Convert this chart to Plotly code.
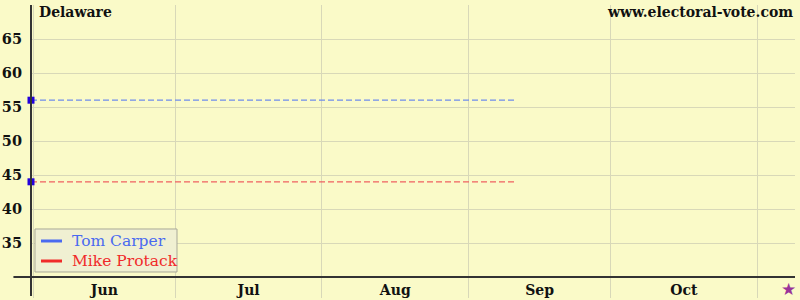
import plotly.graph_objects as go

# Data
dates = ["2006-05-31 12:00", "2006-09-11"]
carper = [56, 56]
protack = [44, 44]
names = ["Tom Carper", "Mike Protack"]
name_colors = ["#4A6AF0", "#F02A2A"]
election_day = "2006-11-07"
y_ticks = [35, 40, 45, 50, 55, 60, 65]

BG = "#FAFAC8"
FONT = "DejaVu Serif"
GRID = "#D8D8B8"

fig = go.Figure()

# Dashed poll lines
fig.add_trace(go.Scatter(x=dates, y=carper, mode="lines",
                         line=dict(color="#6F8CEB", width=1.3, dash="6px,3px"),
                         showlegend=False, hoverinfo="skip"))
fig.add_trace(go.Scatter(x=dates, y=protack, mode="lines",
                         line=dict(color="#F06060", width=1.3, dash="6px,3px"),
                         showlegend=False, hoverinfo="skip"))
# Start markers
fig.add_trace(go.Scatter(x=[dates[0], dates[0]], y=[carper[0], protack[0]], mode="markers",
                         marker=dict(symbol="square", size=7, color="#2200DD"),
                         showlegend=False, cliponaxis=False, hoverinfo="skip"))

fig.update_layout(
    width=800, height=300,
    margin=dict(l=31, r=5, t=5, b=23),
    paper_bgcolor=BG, plot_bgcolor=BG,
    font=dict(family=FONT, size=14, color="#111"),
    showlegend=False,
    xaxis=dict(type="date", range=["2006-05-31 12:00", "2006-11-09"],
               tick0="2006-06-01", dtick="M1", ticklabelmode="period",
               tickformat="%b", showgrid=True, gridcolor=GRID, gridwidth=1,
               ticks="outside", ticklen=20, tickcolor=GRID,
               ticklabelstandoff=-20, automargin=False,
               showline=False, zeroline=False,
               tickfont=dict(family=FONT, size=14, weight="bold", color="#111")),
    yaxis=dict(range=[30, 70], tickvals=y_ticks, showgrid=True, gridcolor=GRID,
               ticks="", showline=False, zeroline=False, automargin=False,
               ticklabelstandoff=8,
               tickfont=dict(family=FONT, size=14.5, weight="bold", color="#111")),
)

# Axis lines extending past the plot corner
fig.add_shape(type="line", xref="paper", yref="paper", x0=0, x1=0, y0=-0.07, y1=1,
              line=dict(color="#333", width=2))
fig.add_shape(type="line", xref="paper", yref="paper", x0=-0.023, x1=1, y0=0, y1=0,
              line=dict(color="#333", width=2))

# Legend box (drawn as layout decoration)
fig.add_shape(type="rect", xref="paper", yref="paper", x0=0.0052, x1=0.1911, y0=0.0184, y1=0.1765,
              line=dict(color="#A8A898", width=1), fillcolor="#F0F0D2", layer="above")
legend_rows_y = [0.1324, 0.0588]
for nm, col, ly in zip(names, name_colors, legend_rows_y):
    fig.add_shape(type="line", xref="paper", yref="paper", x0=0.0131, x1=0.0406, y0=ly, y1=ly,
                  line=dict(color=col, width=3), layer="above")
    fig.add_annotation(text=nm, xref="paper", yref="paper", x=0.051, y=ly,
                       xanchor="left", yanchor="middle", showarrow=False,
                       font=dict(family=FONT, size=15.5, color=col))

# Election day star
fig.add_annotation(text="★", x=election_day, xref="x", yref="paper", y=-0.044,
                   xanchor="center", yanchor="middle", xshift=3, showarrow=False,
                   font=dict(family="DejaVu Sans", size=17, color="#993399"))

fig.add_annotation(text="<b>Delaware</b>", xref="paper", yref="paper", x=0.008, y=1.0,
                   xanchor="left", yanchor="top", yshift=3, showarrow=False,
                   font=dict(family=FONT, size=14, color="#111"))
fig.add_annotation(text="<b>www.electoral-vote.com</b>", xref="paper", yref="paper", x=1.0, y=1.0,
                   xanchor="right", yanchor="top", yshift=3, showarrow=False,
                   font=dict(family=FONT, size=14, color="#111"))

fig.write_html("out.html")
